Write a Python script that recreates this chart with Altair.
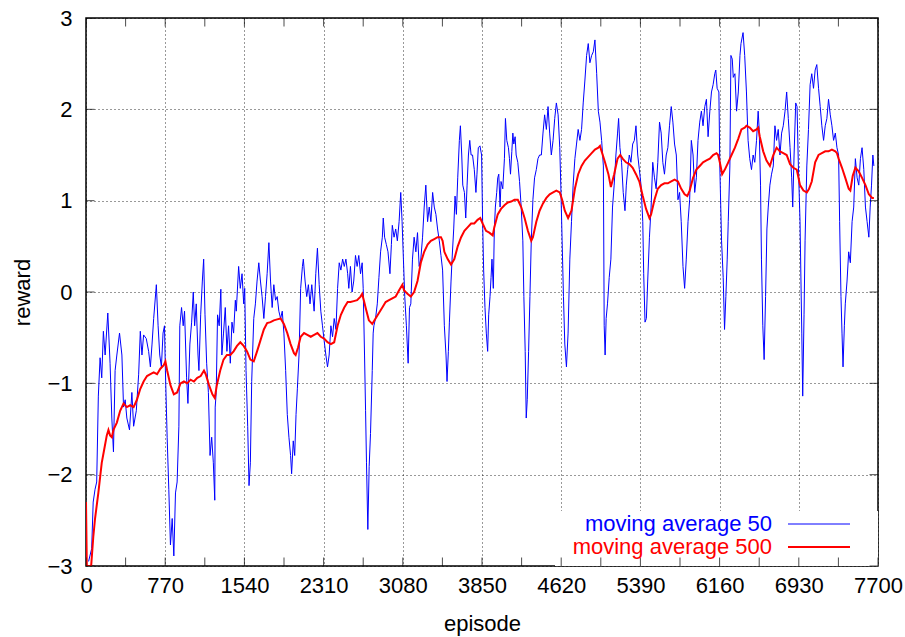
import altair as alt
import pandas as pd

# moving average over 50 episodes
ma50_episode = [
    25, 55, 70, 88, 104, 120, 137, 153, 169, 186, 212, 234, 251, 267, 283, 300, 326, 349, 365, 381,
    397, 423, 446, 463, 489, 512, 528, 544, 560, 586, 609, 626, 642, 658, 684, 701, 717, 733, 749, 763,
    772, 789, 805, 821, 838, 854, 870, 886, 903, 912, 929, 945, 958, 978, 991, 1010, 1027, 1043, 1056, 1072,
    1089, 1098, 1115, 1131, 1144, 1157, 1173, 1190, 1206, 1222, 1238, 1252,
    1256, 1266, 1279, 1295, 1311, 1321, 1337, 1354, 1370, 1386, 1403, 1419, 1435, 1452, 1461, 1484, 1500, 1517,
    1533, 1543, 1556, 1572, 1585, 1598, 1611, 1631, 1647, 1663, 1680, 1696, 1712, 1729, 1745, 1761, 1778, 1794,
    1810, 1826, 1843, 1859, 1875, 1892, 1908, 1924, 1941, 1957, 1973, 1989, 1999, 2015, 2029, 2042, 2055, 2071,
    2087, 2104, 2113, 2130, 2146, 2162, 2178, 2195, 2218, 2234, 2250, 2267, 2283, 2299, 2315, 2332, 2348, 2364,
    2381, 2397, 2413, 2430, 2446, 2462, 2478, 2495, 2511, 2527, 2544,
    2555, 2571, 2587, 2603, 2620, 2636, 2652, 2669, 2685, 2695, 2708, 2718, 2727, 2740, 2753, 2766, 2783, 2792,
    2799, 2815, 2832, 2848, 2864, 2881, 2890, 2903, 2920, 2936, 2955, 2969, 2978, 2995, 3011, 3027, 3044, 3060,
    3073, 3086, 3099, 3115, 3132, 3145, 3158, 3174, 3190, 3207, 3223, 3239, 3255, 3272, 3288, 3304, 3321, 3337,
    3353, 3370, 3386, 3402, 3418, 3435, 3451, 3467, 3484, 3500, 3510, 3523, 3533, 3549, 3559, 3575, 3588, 3601,
    3614, 3630, 3640, 3653, 3663, 3679, 3692, 3705, 3718, 3731, 3744,
    3758, 3775, 3791, 3801, 3814, 3830, 3846, 3856, 3866, 3879, 3892, 3905, 3915, 3928, 3938, 3947, 3960, 3970,
    3980, 3993, 4003, 4013, 4026, 4035, 4052, 4068, 4078, 4091, 4107, 4117, 4127, 4140, 4150, 4159, 4172, 4182,
    4198, 4215, 4231, 4247, 4257, 4270, 4280, 4290, 4303, 4316, 4329, 4345, 4361, 4378, 4394, 4410, 4427, 4443,
    4459, 4476, 4492, 4508, 4524, 4541, 4557, 4573, 4590, 4606, 4616, 4629, 4642, 4655, 4671, 4687, 4704, 4720,
    4736, 4753, 4769, 4785, 4802, 4818, 4834, 4850, 4867, 4883, 4899, 4916, 4932, 4948, 4965, 4981, 4997, 5013,
    5030,
    5038, 5047, 5057, 5070, 5087, 5103, 5119, 5135, 5152, 5168, 5178, 5191, 5207, 5223, 5240, 5253, 5266, 5282,
    5298, 5315, 5331, 5347, 5364, 5380, 5396, 5413, 5422, 5435, 5448, 5461, 5478, 5494, 5510, 5527, 5543, 5559,
    5576, 5592, 5608, 5624, 5641, 5657, 5673, 5690, 5706, 5722, 5739, 5755, 5771, 5787, 5804, 5820, 5836, 5853,
    5869, 5885, 5902, 5918, 5934, 5950, 5967, 5983, 5999, 6016, 6032, 6048, 6065, 6081, 6097, 6113, 6123, 6136,
    6153, 6162, 6179, 6195, 6208, 6221, 6234, 6244, 6260, 6270, 6283, 6293, 6309, 6325, 6342, 6358, 6368,
    6388, 6404, 6421, 6437, 6453, 6470, 6486, 6502, 6519, 6535, 6545, 6558, 6567, 6580, 6593, 6607, 6620, 6633,
    6649, 6665, 6682, 6698, 6714, 6730, 6747, 6763, 6779, 6796, 6812, 6828, 6845, 6861, 6871, 6884, 6900, 6913,
    6926, 6942, 6959, 6968, 6981, 6991, 7008, 7024, 7040, 7056, 7073, 7089, 7105, 7122, 7138, 7154, 7171, 7187,
    7203, 7219, 7236, 7252, 7268, 7285, 7301, 7317, 7327, 7340, 7350, 7360, 7373, 7382, 7399, 7415, 7431, 7448,
    7464, 7480, 7497, 7513, 7529, 7545, 7562, 7578, 7594, 7611, 7624, 7637, 7650, 7660,
]
ma50_reward = [
    -2.95, -2.81, -2.30, -2.16, -2.08, -1.14, -0.72, -0.94, -0.43, -0.69, -0.23, -0.78, -1.38, -1.75, -0.86, -0.69, -0.45, -0.69, -1.26, -1.18,
    -1.38, -1.51, -1.10, -1.47, -1.30, -0.90, -0.43, -0.69, -0.47, -0.51, -0.65, -0.82, -0.57, -0.29, 0.08, -0.37, -0.69, -0.82, -0.45, -0.37,
    -0.86, -1.59, -2.16, -2.77, -2.48, -2.89, -2.20, -2.08, -1.47, -0.37, -0.17, -0.37, -0.21, -0.94, -1.22, -0.57, -0.33, 0.00, -0.37, -0.13,
    -0.69, -0.86, -0.25, 0.12, 0.36, -0.25, -0.78, -1.10, -1.79, -1.59, -1.87, -2.28,
    -1.26, -1.10, -0.25, -0.37, 0.03, -0.69, -0.45, -0.17, -0.65, -0.37, -0.78, -0.33, -0.45, -0.09, -0.21, 0.28, 0.04, 0.20,
    -0.13, 0.04, -0.86, -1.47, -2.12, -1.87, -0.98, -0.29, -0.13, 0.12, 0.32, 0.12, -0.05, -0.29, -0.05, 0.20, 0.54, 0.12,
    -0.17, 0.08, -0.09, -0.05, -0.21, -0.29, -0.21, -0.45, -0.86, -1.34, -1.59, -1.79, -1.99, -1.63, -1.79, -1.34, -1.06, -0.69,
    0.04, 0.28, 0.36, 0.12, -0.05, 0.08, -0.13, 0.08, -0.21, 0.20, 0.48, 0.08, -0.21, -0.37, -0.53, -0.69, -0.82, -0.69,
    -0.37, -0.49, -0.29, -0.41, 0.04, 0.32, 0.24, 0.36, 0.28, 0.36, 0.20,
    0.04, 0.28, 0.00, 0.12, 0.40, 0.28, 0.40, 0.20, 0.32, 0.04, -0.69, -1.30, -1.87, -2.60, -1.91, -1.55, -0.86, -0.45,
    -0.37, -0.29, -0.13, 0.16, 0.44, 0.60, 0.81, 0.60, 0.52, 0.44, 0.20, 0.52, 0.73, 0.60, 0.69, 0.56, 0.77, 1.09,
    0.77, 0.36, -0.05, -0.37, -0.78, -0.17, -0.13, 0.36, 0.60, 0.44, 0.65, 0.28, 0.36, 0.60, 0.93, 1.17, 0.77, 0.93,
    0.77, 1.09, 0.93, 0.85, 0.69, 0.56, 0.40, 0.24, -0.37, -0.69, -0.98, -0.65, -0.33, 0.12, 0.36, 0.69, 1.05, 0.85,
    1.25, 1.66, 1.82, 1.50, 1.17, 1.09, 0.81, 1.17, 1.50, 1.66, 1.50,
    1.50, 1.34, 1.09, 1.29, 1.58, 1.60, 1.50, 0.77, 0.24, -0.17, -0.45, -0.65, -0.25, -0.05, 0.16, 0.36, 0.04, 0.69,
    0.93, 1.09, 1.25, 1.29, 0.93, 1.21, 1.13, 1.46, 1.90, 1.66, 1.58, 1.46, 1.29, 1.54, 1.74, 1.62, 1.70, 1.50,
    1.42, 1.21, 0.93, 0.56, -0.05, -0.65, -1.38, -1.18, -0.65, -0.05, 0.56, 1.01, 1.25, 1.34, 1.46, 1.50, 1.50, 1.74,
    1.94, 1.78, 2.03, 1.74, 1.50, 1.66, 1.90, 2.07, 1.94, 1.58, 1.17, 0.56, -0.05, -0.57, -0.82, -0.45, 0.36, 0.77,
    1.17, 1.46, 1.62, 1.78, 1.66, 1.78, 2.07, 2.31, 2.59, 2.72, 2.51, 2.59, 2.63, 2.76, 2.39, 1.98, 1.86, 1.66,
    1.38,
    -0.37, -0.69, -0.29, -0.13, 0.16, 0.36, 0.93, 1.17, 1.50, 1.74, 1.90, 1.58, 1.42, 1.09, 0.89, 1.17, 1.34, 1.50,
    1.42, 1.62, 1.66, 1.82, 1.50, 1.34, 1.17, 0.77, 0.20, -0.33, -0.29, 0.12, 0.60, 0.93, 1.42, 1.25, 1.13, 1.42,
    1.86, 1.74, 1.42, 1.29, 1.50, 1.58, 1.82, 2.03, 1.86, 1.62, 1.50, 1.01, 1.09, 0.77, 0.28, 0.04, 0.36, 0.77,
    1.01, 1.66, 1.50, 1.09, 1.25, 1.66, 1.86, 1.98, 1.82, 2.03, 2.11, 1.70, 1.98, 2.19, 2.27, 2.39, 2.43, 2.23,
    2.19, 1.38, 0.56, 0.16, -0.41, -0.05, 0.36, 0.77, 1.38, 2.59, 2.55, 2.35, 2.39, 1.98, 2.19, 2.59, 2.72,
    2.84, 2.59, 2.19, 1.66, 1.46, 1.34, 1.50, 1.42, 1.66, 1.98, 1.78, 1.17, 0.36, -0.37, -0.74, -0.05, 0.69, 0.93,
    1.17, 1.29, 1.38, 1.82, 1.66, 1.78, 1.50, 1.74, 1.82, 1.98, 2.19, 1.90, 1.58, 1.25, 0.93, 1.50, 2.07, 2.03,
    1.38, 0.77, -0.45, -1.14, -0.25, 0.56, 1.38, 1.78, 2.27, 2.39, 2.23, 2.43, 2.49, 2.23, 2.03, 1.82, 1.66, 1.82,
    1.90, 2.11, 1.94, 1.82, 1.66, 1.74, 1.58, 1.50, 0.77, -0.05, -0.45, -0.82, -0.37, -0.13, 0.12, 0.44, 0.32, 0.77,
    0.93, 1.46, 1.25, 1.17, 1.46, 1.58, 1.34, 0.93, 0.77, 0.60, 0.93, 1.17, 1.50, 1.38,
]

# moving average over 500 episodes
ma500_episode = [
    0, 8, 50, 71, 88, 120, 153, 176, 202, 218, 234, 251, 267, 300, 332, 365, 397, 430, 463, 495,
    528, 560, 593, 626, 658, 691, 723, 756, 772, 789, 821, 854, 886, 919, 952, 984, 1017, 1049, 1082, 1115,
    1147, 1164, 1196, 1229, 1252, 1272, 1305, 1337, 1370, 1403, 1435, 1468, 1500, 1533, 1566, 1598, 1631, 1663, 1696, 1729,
    1761, 1794, 1826, 1859, 1892, 1924, 1957, 1989, 2022, 2038, 2061, 2087, 2120, 2152, 2185, 2218, 2250, 2283, 2315, 2348,
    2381, 2413, 2446, 2478, 2511, 2544, 2571, 2603, 2636, 2669, 2685, 2701, 2718, 2750, 2783, 2815, 2848, 2881, 2913, 2946,
    2978, 3011, 3044, 3076, 3092, 3125, 3158, 3190, 3223, 3255, 3288, 3321, 3353, 3386, 3418, 3451, 3467, 3484, 3516, 3549,
    3581, 3614, 3647, 3679, 3712, 3744, 3775, 3807, 3833, 3856, 3889, 3921, 3954, 3970, 4003, 4035, 4068, 4101, 4133, 4166,
    4198, 4231, 4264, 4296, 4329, 4345, 4378, 4410, 4443, 4476, 4508, 4541, 4573, 4606, 4629, 4655, 4687, 4720, 4753, 4785,
    4818, 4850, 4883, 4916, 4948, 4981, 4997, 5013, 5046, 5079, 5103, 5135, 5168, 5194, 5217, 5250, 5282, 5315, 5347, 5380,
    5413, 5445, 5478, 5494, 5527, 5559, 5592, 5624, 5657, 5690, 5722, 5755, 5787, 5820, 5846, 5869, 5902, 5934, 5967, 5999,
    6032, 6065, 6097, 6130, 6146, 6162, 6185, 6211, 6244, 6276, 6309, 6342, 6372, 6404, 6421, 6453, 6486, 6519, 6535, 6551,
    6584, 6616, 6649, 6682, 6714, 6747, 6779, 6812, 6845, 6877, 6910, 6942, 6975, 7008, 7030, 7056, 7089, 7122, 7154, 7187,
    7219, 7252, 7285, 7301, 7317, 7350, 7382, 7415, 7431, 7454, 7480, 7513, 7545, 7578, 7611, 7643, 7660,
]
ma500_reward = [
    -2.30, -3.00, -3.00, -2.68, -2.48, -2.20, -1.87, -1.73, -1.57, -1.51, -1.57, -1.59, -1.51, -1.43, -1.30, -1.22, -1.26, -1.24, -1.26, -1.18,
    -1.06, -0.98, -0.92, -0.90, -0.88, -0.90, -0.84, -0.80, -0.76, -0.86, -1.02, -1.12, -1.10, -1.00, -0.98, -1.00, -0.96, -0.98, -0.94, -0.92,
    -0.86, -0.90, -1.02, -1.12, -1.16, -1.02, -0.86, -0.74, -0.69, -0.69, -0.65, -0.59, -0.55, -0.59, -0.65, -0.74, -0.76, -0.65, -0.53, -0.41,
    -0.34, -0.33, -0.31, -0.30, -0.29, -0.35, -0.45, -0.57, -0.67, -0.69, -0.61, -0.49, -0.45, -0.47, -0.49, -0.47, -0.45, -0.49, -0.51, -0.55,
    -0.57, -0.55, -0.37, -0.25, -0.17, -0.11, -0.11, -0.10, -0.09, -0.05, -0.02, -0.09, -0.17, -0.31, -0.35, -0.29, -0.23, -0.17, -0.11, -0.09,
    -0.07, -0.05, 0.02, 0.08, 0.02, -0.02, -0.05, 0.00, 0.12, 0.32, 0.44, 0.52, 0.56, 0.58, 0.60, 0.60, 0.56, 0.44, 0.36, 0.30,
    0.36, 0.50, 0.60, 0.67, 0.71, 0.75, 0.75, 0.79, 0.81, 0.75, 0.67, 0.65, 0.62, 0.71, 0.85, 0.91, 0.95, 0.98, 0.99, 1.01,
    1.01, 0.93, 0.81, 0.67, 0.56, 0.60, 0.77, 0.89, 0.97, 1.03, 1.07, 1.09, 1.11, 1.09, 1.01, 0.89, 0.81, 0.89, 1.13, 1.29,
    1.38, 1.44, 1.48, 1.52, 1.56, 1.58, 1.60, 1.54, 1.42, 1.29, 1.15, 1.29, 1.46, 1.50, 1.46, 1.42, 1.40, 1.36, 1.29, 1.21,
    1.05, 0.91, 0.81, 0.85, 1.01, 1.13, 1.17, 1.19, 1.19, 1.21, 1.23, 1.21, 1.13, 1.07, 1.05, 1.11, 1.25, 1.34, 1.38, 1.42,
    1.44, 1.46, 1.50, 1.52, 1.50, 1.42, 1.29, 1.34, 1.42, 1.50, 1.58, 1.68, 1.78, 1.80, 1.82, 1.80, 1.76, 1.78, 1.80, 1.70,
    1.54, 1.44, 1.38, 1.50, 1.58, 1.54, 1.52, 1.50, 1.40, 1.36, 1.34, 1.17, 1.11, 1.09, 1.13, 1.21, 1.42, 1.50, 1.52, 1.54,
    1.54, 1.56, 1.54, 1.52, 1.46, 1.36, 1.25, 1.13, 1.11, 1.27, 1.36, 1.32, 1.25, 1.17, 1.07, 1.03, 1.03,
]

series_names = ["moving average 50", "moving average 500"]
series_colors = ["#0000ff", "#ff0000"]

x_ticks = list(range(0, 7701, 385))      # grid and tick marks every 385, labels every 770
y_ticks = [-3, -2, -1, 0, 1, 2, 3]

FONT = "Liberation Sans"
FS = 22          # axis labels, titles and key entries
W, H = 792, 548

df50 = pd.DataFrame({"episode": ma50_episode, "reward": ma50_reward})
df500 = pd.DataFrame({"episode": ma500_episode, "reward": ma500_reward})
df_xt = pd.DataFrame({"episode": x_ticks})
df_yt = pd.DataFrame({"reward": y_ticks})

xscale = alt.Scale(domain=[0, 7700], nice=False, zero=False)
yscale = alt.Scale(domain=[-3, 3], nice=False, zero=False)

x_axis = alt.Axis(
    values=x_ticks, format="d",
    labelExpr="datum.value % 770 == 0 ? datum.label : ''",
    grid=True, ticks=False, domain=False,
    labelFlush=False, labelOverlap=False, labelBound=False,
    labelPadding=9, title="episode", titleY=57, titleBaseline="middle",
)
y_axis = alt.Axis(
    values=y_ticks, format="d",
    grid=True, ticks=False, domain=False,
    labelFlush=False, labelOverlap=False, labelPadding=14,
    title="reward", titleX=-64, titleY=H / 2, titleBaseline="middle", titleAlign="center",
)

line50 = alt.Chart(df50).mark_line(color=series_colors[0], strokeWidth=1, clip=True).encode(
    x=alt.X("episode:Q", scale=xscale, axis=x_axis),
    y=alt.Y("reward:Q", scale=yscale, axis=y_axis),
)
line500 = alt.Chart(df500).mark_line(color=series_colors[1], strokeWidth=2, clip=True).encode(
    x=alt.X("episode:Q", scale=xscale),
    y=alt.Y("reward:Q", scale=yscale),
)

# white key box hiding the grid behind the legend entries
key_box = alt.Chart(alt.Data(values=[{}])).mark_rect(color="white").encode(
    x=alt.value(469), x2=alt.value(W), y=alt.value(493), y2=alt.value(H)
)

# inward tick marks on all four borders
tick_style = dict(color="black", size=17, thickness=1, clip=True)
bottom_ticks = alt.Chart(df_xt).mark_tick(**tick_style).encode(
    x=alt.X("episode:Q", scale=xscale), y=alt.value(H))
top_ticks = alt.Chart(df_xt).mark_tick(**tick_style).encode(
    x=alt.X("episode:Q", scale=xscale), y=alt.value(0))
left_ticks = alt.Chart(df_yt).mark_tick(**tick_style).encode(
    y=alt.Y("reward:Q", scale=yscale), x=alt.value(0))
right_ticks = alt.Chart(df_yt).mark_tick(**tick_style).encode(
    y=alt.Y("reward:Q", scale=yscale), x=alt.value(W))

# key entries
key_layers = []
for i, (name, col) in enumerate(zip(series_names, series_colors)):
    ky = 506 + 23 * i
    key_layers.append(
        alt.Chart(alt.Data(values=[{}])).mark_text(
            text=name, color=col, font=FONT, fontSize=FS, align="right", baseline="middle"
        ).encode(x=alt.value(686), y=alt.value(ky))
    )
    key_layers.append(
        alt.Chart(alt.Data(values=[{}])).mark_rule(color=col, strokeWidth=1 if i == 0 else 2).encode(
            x=alt.value(702), x2=alt.value(764), y=alt.value(ky)
        )
    )

chart = alt.layer(
    line50, key_box, line500, bottom_ticks, top_ticks, left_ticks, right_ticks, *key_layers
).properties(
    width=W, height=H,
    padding={"left": 86, "top": 18, "right": 27, "bottom": 71},
    autosize=alt.AutoSizeParams(type="none"),
    background="white",
).configure_view(
    stroke="black", strokeWidth=1.5
).configure_axis(
    gridColor="#000000", gridDash=[1, 3], gridWidth=1, gridOpacity=0.8,
    labelFont=FONT, labelFontSize=FS, labelColor="black",
    titleFont=FONT, titleFontSize=FS, titleFontWeight="normal", titleColor="black",
)

chart.save("out.html", embed_options={"renderer": "svg", "actions": False})
